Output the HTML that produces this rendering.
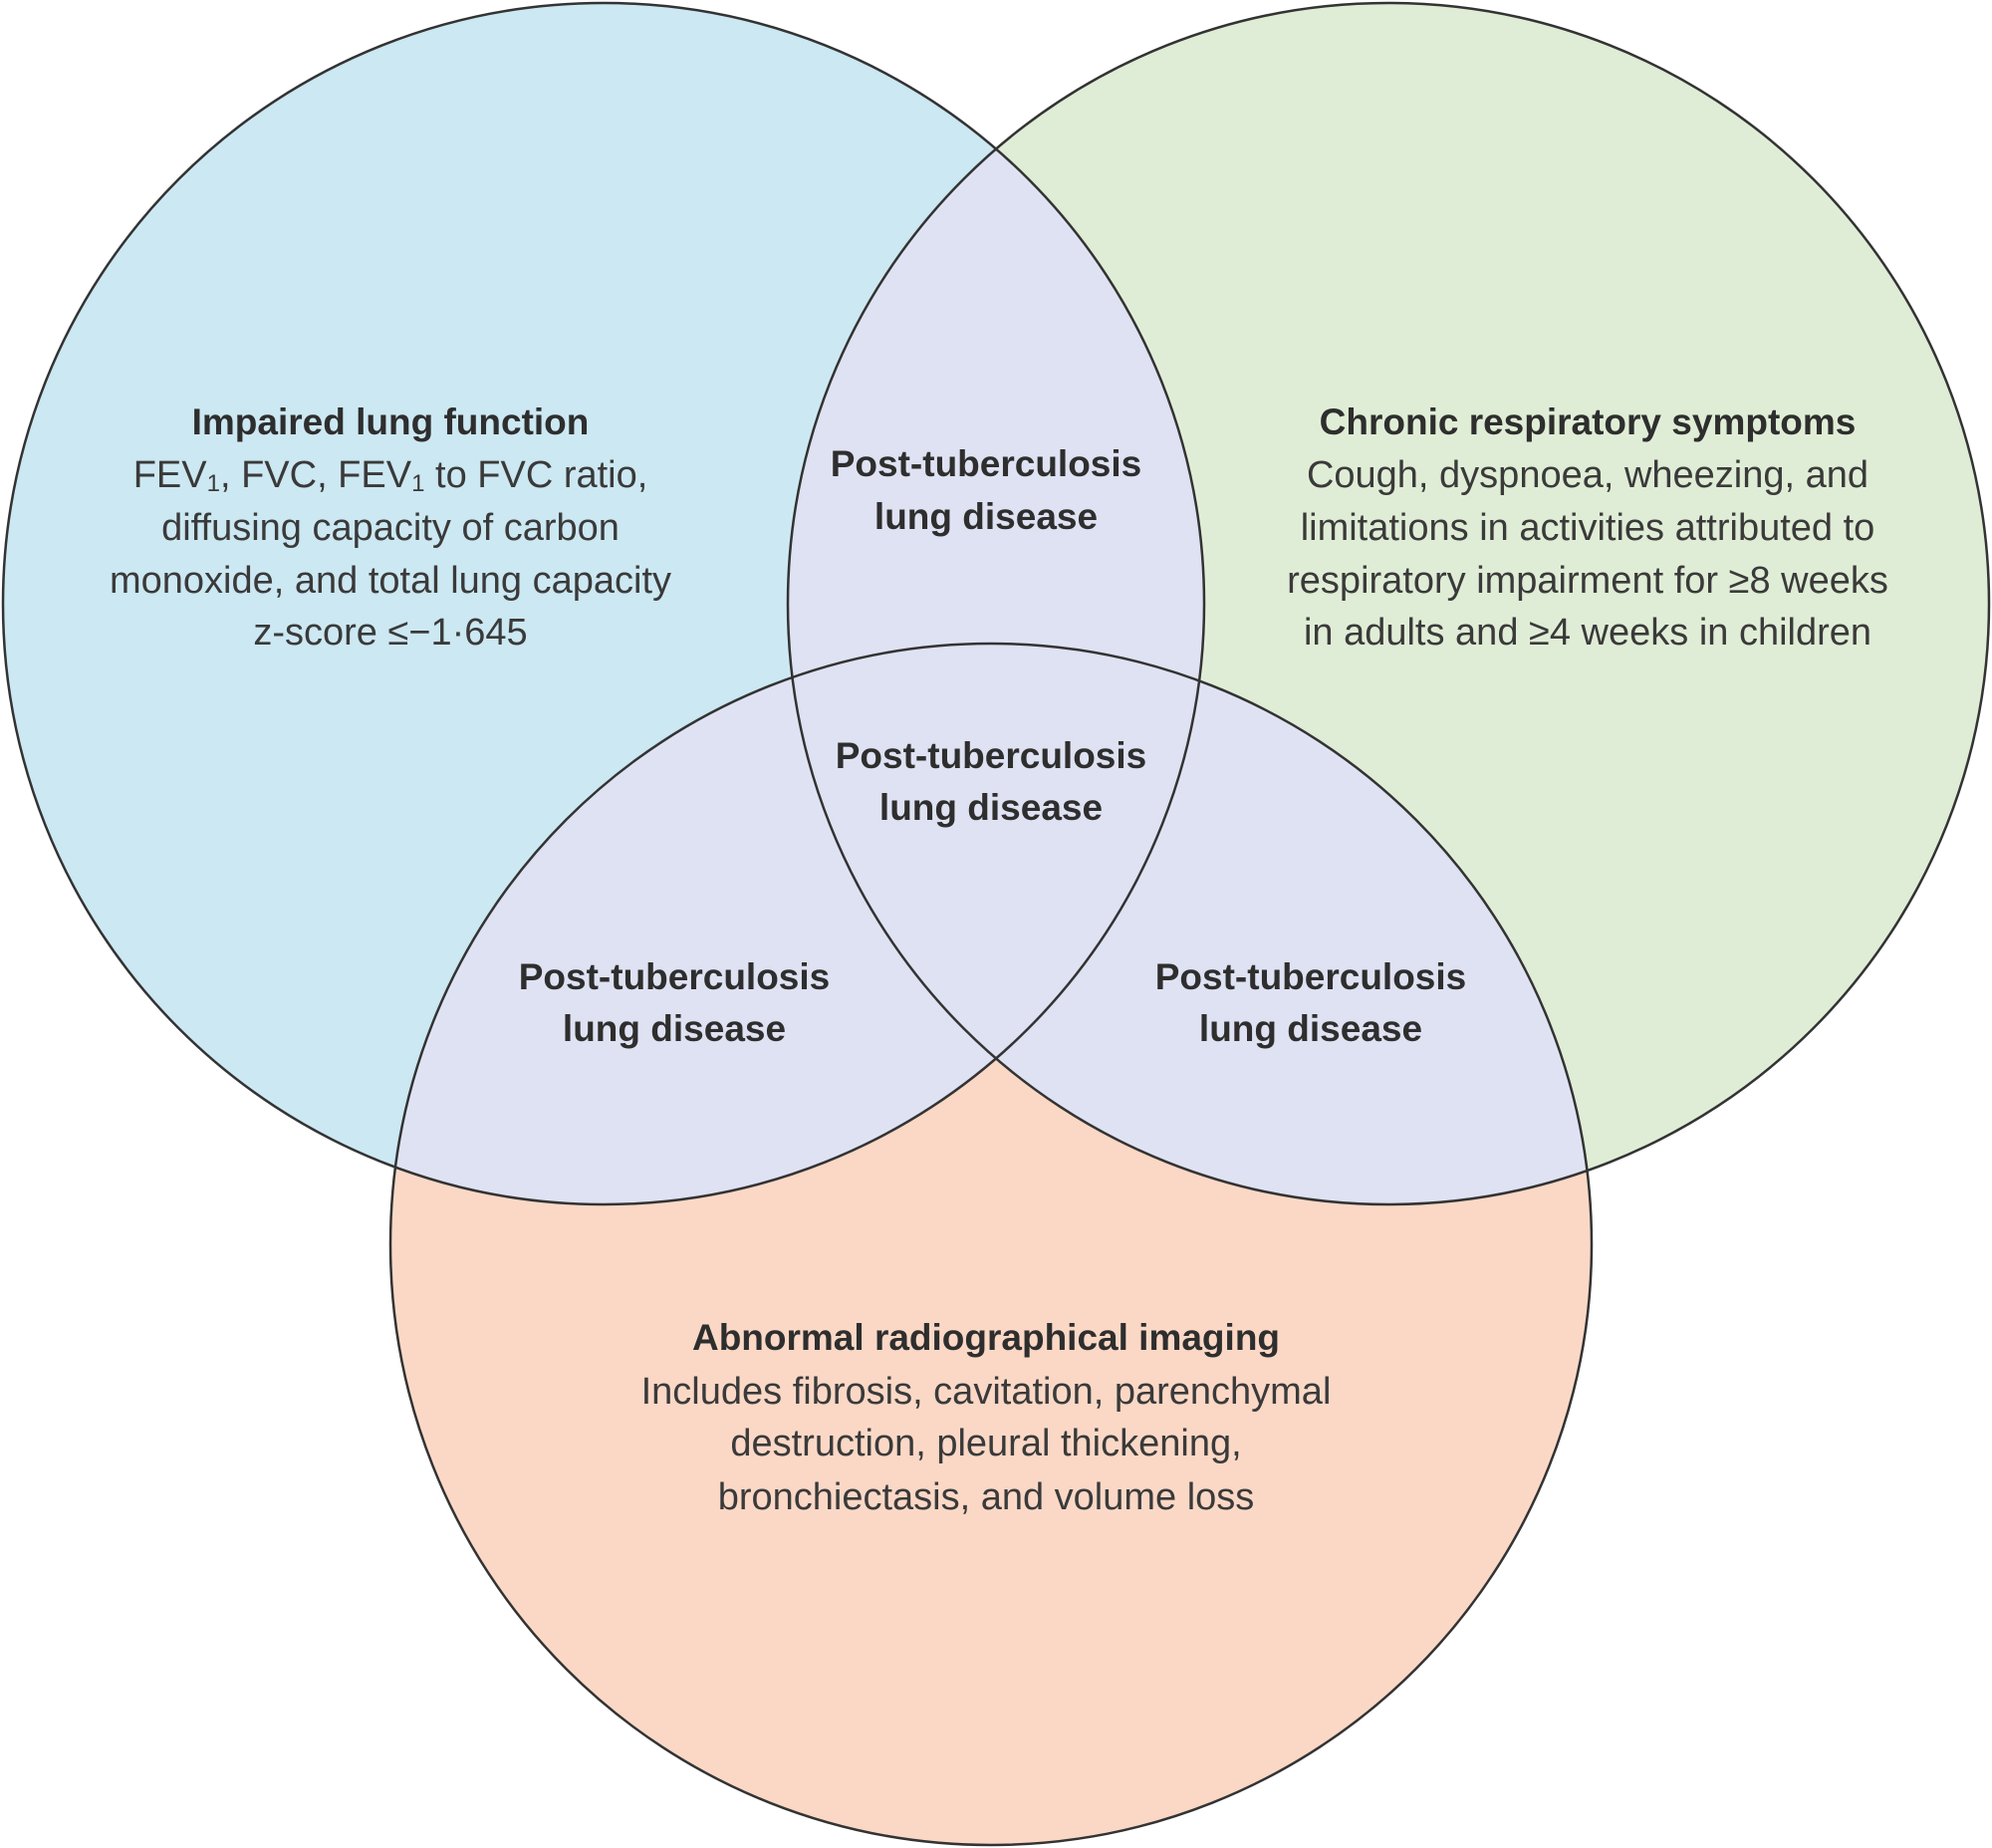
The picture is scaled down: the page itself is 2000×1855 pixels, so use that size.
<!DOCTYPE html>
<html><head><meta charset="utf-8"><style>
html,body{margin:0;padding:0;background:#fff;}
svg{display:block;}
text{font-family:"Liberation Sans",sans-serif;font-size:38px;fill:#3a3a3a;text-anchor:middle;dominant-baseline:middle;}
.b{font-weight:bold;fill:#2e2e2e;font-size:37px;}
</style></head><body>
<svg width="2000" height="1855" viewBox="0 0 2000 1855">
<defs>
<clipPath id="cL"><circle cx="606" cy="606" r="603"/></clipPath>
<clipPath id="cR"><circle cx="1394" cy="606" r="603"/></clipPath>
</defs>
<rect width="2000" height="1855" fill="#fff"/>
<circle cx="606" cy="606" r="603" fill="#cce8f2"/>
<circle cx="1394" cy="606" r="603" fill="#e0edd6"/>
<circle cx="995" cy="1249" r="603" fill="#fbd8c6"/>
<g clip-path="url(#cL)">
<circle cx="1394" cy="606" r="603" fill="#dfe2f2"/>
<circle cx="995" cy="1249" r="603" fill="#dfe2f2"/>
</g>
<g clip-path="url(#cR)">
<circle cx="995" cy="1249" r="603" fill="#dfe2f2"/>
</g>
<g fill="none" stroke="#333" stroke-width="2.5">
<circle cx="606" cy="606" r="603"/>
<circle cx="1394" cy="606" r="603"/>
<circle cx="995" cy="1249" r="603"/>
</g>
<text class="b" x="392" y="426">Impaired lung function</text>
<text x="392" y="479">FEV<tspan font-size="24" dy="8">1</tspan><tspan dy="-8">, FVC, FEV</tspan><tspan font-size="24" dy="8">1</tspan><tspan dy="-8"> to FVC ratio,</tspan></text>
<text x="392" y="532">diffusing capacity of carbon</text>
<text x="392" y="585">monoxide, and total lung capacity</text>
<text x="392" y="637">z-score ≤−1·645</text>
<text class="b" x="1594" y="426">Chronic respiratory symptoms</text>
<text x="1594" y="479">Cough, dyspnoea, wheezing, and</text>
<text x="1594" y="532">limitations in activities attributed to</text>
<text x="1594" y="585">respiratory impairment for ≥8 weeks</text>
<text x="1594" y="637">in adults and ≥4 weeks in children</text>
<text class="b" x="990" y="468">Post-tuberculosis</text>
<text class="b" x="990" y="521">lung disease</text>
<text class="b" x="995" y="761">Post-tuberculosis</text>
<text class="b" x="995" y="813">lung disease</text>
<text class="b" x="677" y="983">Post-tuberculosis</text>
<text class="b" x="677" y="1035">lung disease</text>
<text class="b" x="1316" y="983">Post-tuberculosis</text>
<text class="b" x="1316" y="1035">lung disease</text>
<text class="b" x="990" y="1345">Abnormal radiographical imaging</text>
<text x="990" y="1399">Includes fibrosis, cavitation, parenchymal</text>
<text x="990" y="1451">destruction, pleural thickening,</text>
<text x="990" y="1505">bronchiectasis, and volume loss</text>
</svg>
</body></html>
